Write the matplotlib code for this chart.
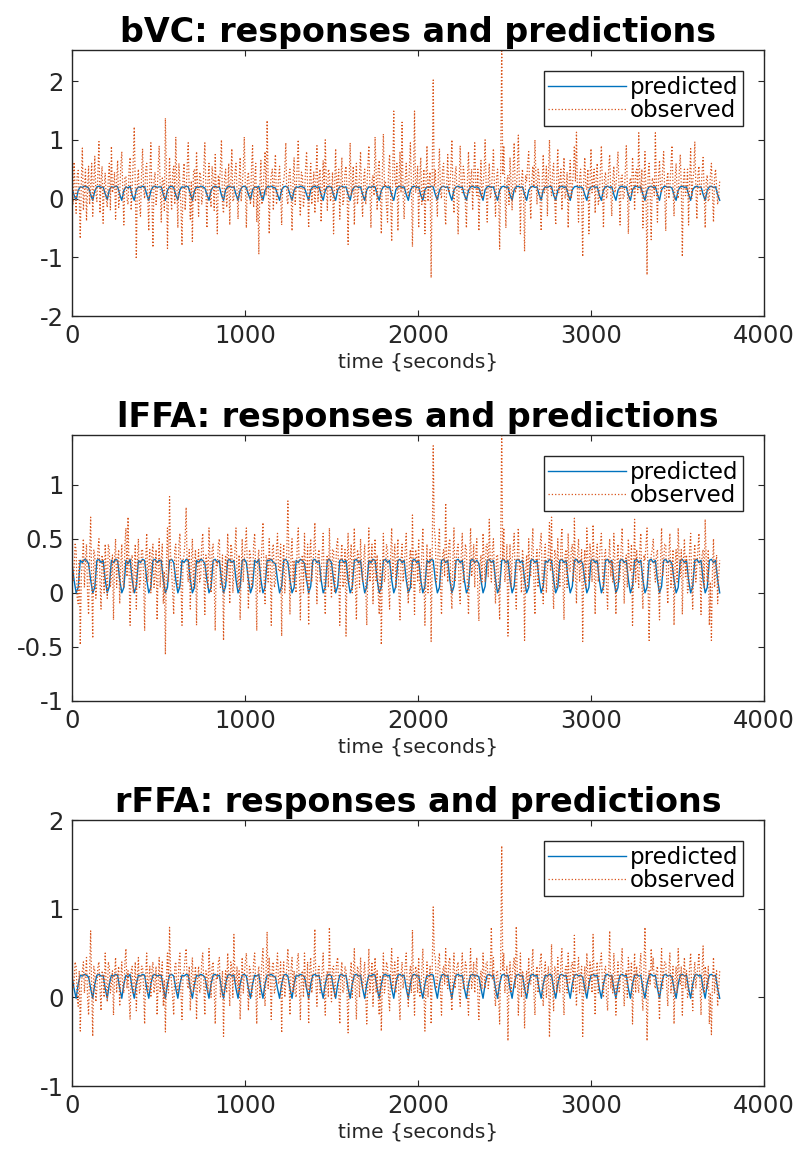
import numpy as np
import matplotlib
matplotlib.use("Agg")
import matplotlib.pyplot as plt

# sampling intervals (seconds): observed traces and model prediction
DT_OBS = 6
DT_PRED = 12

# bVC
bvc_obs = [
    0.35, -0.1, 0.62, 0.2, -0.25, 0.4, 0.48, 0.05, -0.68, 0.3, 0.86, -0.2, 0.12, 0.5, -0.38, 0.15, 0.55, -0.1, 0.21, 0.6, -0.3, 0.25, 0.72, 0.1, -0.05, 0.45, 0.97, -0.25, 0.3, 0.55, -0.42, 0.2, 0.44, 0.0, -0.15, 0.35, 0.6, -0.2, 0.89, 0.1,
    0.2, 0.45, -0.35, 0.3, 0.65, -0.15, 0.05, 0.55, 0.8, 0.1, -0.45, 0.35, 0.38, 0.0, -0.1, 0.5, 0.7, -0.2, 0.15, 0.65, 1.22, 0.2, -1.03, 0.3, 0.5, -0.1, -0.3, 0.4, 0.85, 0.15, 0.0, 0.5, 0.6, 0.05, -0.55, 0.4, 0.95, 0.1, -0.83, 0.3,
    0.45, -0.1, 0.1, 0.5, 0.9, 0.2, -0.4, 0.35, 0.3, -0.2, 1.37, 0.4, -0.85, 0.1, 0.7, 0.2, -0.2, 0.45, 0.55, -0.1, 1.05, 0.3, -0.5, 0.6, 0.25, -0.15, -0.8, 0.35, 0.6, -0.2, 0.15, 0.55, 0.95, 0.1, -0.35, 0.3, -0.73, 0.45, 0.5, -0.05,
    0.8, 0.2, -0.3, 0.45, 0.4, -0.1, 0.05, 0.5, 0.95, 0.15, -0.5, 0.3, 0.6, 0.05, -0.15, 0.55, 0.35, -0.2, 0.75, 0.1, -0.6, 0.4, 0.2, 0.55, 1.0, -0.1, -0.25, 0.35, 0.5, -0.15, 0.1, 0.6, -0.45, 0.25, 0.85, -0.05, 0.0, 0.45, 0.6, 0.1,
    -0.35, 0.3, 0.7, -0.05, 0.2, 0.5, 1.05, 0.2, -0.5, 0.35, 0.45, 0.1, -0.1, 0.55, 0.9, -0.15, 0.3, 0.6, -0.4, 0.2, -0.95, 0.25, 0.65, -0.1, 0.1, 0.45, 0.8, 0.05, 1.33, 0.3, -0.6, 0.2, 0.4, 0.5, -0.2, 0.4, 0.75, -0.1, 0.05, 0.35,
    0.55, 0.1, -0.45, 0.25, 0.3, 0.5, 0.95, 0.0, -0.1, 0.4, 0.5, 0.15, -0.55, 0.3, 0.7, -0.1, 0.15, 0.55, 1.0, 0.05, -0.3, 0.45, 0.4, -0.15, 0.05, 0.5, 0.8, 0.2, -0.5, 0.3, 0.6, -0.1, 0.2, 0.45, -0.25, 0.35, 0.9, -0.05, 0.35, 0.5,
    -0.4, 0.2, 0.65, 0.1, 1.0, 0.3, -0.2, 0.5, 0.45, -0.05, 0.1, 0.45, -0.6, 0.2, 0.85, 0.1, 0.3, 0.5, -0.35, 0.25, 0.7, -0.1, 0.0, 0.45, 0.55, 0.15, -0.78, 0.3, 0.95, 0.05, 0.2, 0.55, -0.45, 0.25, 0.6, -0.1, 0.1, 0.4, 0.8, 0.0,
    -0.3, 0.35, 0.5, -0.1, 0.15, 0.55, 0.9, 0.2, -0.5, 0.3, 0.4, 0.05, 1.05, 0.4, -0.2, 0.5, 0.65, 0.1, -0.6, 0.45, 1.1, 0.2, 0.3, -0.15, -0.4, 0.5, 0.75, 0.0, -0.73, 0.4, 1.49, 0.3, 0.2, 0.6, -0.55, 0.25, 0.8, 0.1, 1.3, 0.05,
    -0.35, 0.3, 0.6, 0.15, 0.05, 0.5, 0.95, 0.2, -0.82, 0.4, 1.49, 0.1, 0.25, 0.55, -0.5, 0.3, 0.7, -0.1, 0.1, 0.5, -0.6, 0.25, 0.9, -0.05, 0.3, 0.45, -1.35, 0.3, 2.02, 0.2, 0.5, 0.0, -0.3, 0.45, 0.85, 0.1, 0.0, 0.5, 0.6, -0.1,
    -0.45, 0.25, 0.75, 0.1, 0.2, 0.5, 1.0, 0.15, -0.25, 0.4, 0.55, 0.05, -0.6, 0.3, 0.9, 0.2, 0.1, 0.55, 0.4, -0.1, -0.5, 0.35, 0.8, 0.1, 0.3, 0.5, -0.2, 0.4, 0.95, 0.2, 0.05, 0.5, -0.55, 0.15, 0.65, 0.0, 0.2, 0.45, 1.0, 0.2,
    -0.4, 0.3, 0.6, 0.0, 0.1, 0.45, 0.85, 0.2, -0.3, 0.35, 0.5, 0.1, -0.86, 0.5, 2.6, 0.4, 0.9, 0.2, -0.5, 0.3, 0.4, -0.1, 0.7, 0.25, -0.2, 0.5, 0.95, 0.1, 0.15, 0.45, 1.08, 0.2, -0.6, 0.3, 0.5, 0.05, -0.9, 0.4, 0.3, 0.6,
    0.8, 0.1, -0.35, 0.3, 0.55, 0.2, 1.0, 0.35, -0.1, 0.5, 0.4, -0.05, -0.55, 0.3, 0.75, 0.1, 0.2, 0.55, -0.3, 0.4, 1.0, 0.2, 0.05, 0.45, 0.6, 0.0, -0.45, 0.35, 0.85, 0.1, 0.3, 0.5, -0.2, 0.25, 0.7, 0.0, 0.1, 0.45, -0.5, 0.3,
    0.65, 0.0, 0.2, 0.45, 0.9, 0.3, 1.13, 0.1, -0.4, 0.35, 0.5, 0.05, -0.99, 0.3, 0.7, 0.2, 0.15, 0.5, -0.6, 0.25, 0.85, 0.1, 0.3, 0.5, -0.25, 0.35, 0.6, -0.1, 0.0, 0.45, 0.9, 0.2, -0.5, 0.35, 0.45, 0.0, 0.1, 0.5, 0.75, 0.15,
    -0.3, 0.3, 0.55, 0.1, 0.2, 0.5, 0.8, 0.15, -0.45, 0.35, 0.4, 0.0, 0.05, 0.45, 0.9, 0.2, -0.6, 0.25, 0.35, 0.05, 0.7, 0.4, -0.2, 0.45, 0.5, 0.1, 1.12, 0.3, 0.1, 0.5, -0.5, 0.2, 0.8, 0.05, -1.3, 0.4, 0.6, 0.1, -0.7, 0.35,
    0.3, 0.05, 1.12, 0.2, -0.4, 0.35, 0.65, 0.15, 0.1, 0.5, 0.8, 0.1, -0.55, 0.3, 0.45, 0.0, 0.2, 0.55, 0.9, 0.2, -0.3, 0.35, 0.6, 0.1, 0.0, 0.45, 0.75, 0.2, -0.99, 0.3, 0.5, 0.05, 0.15, 0.5, -0.45, 0.3, 0.85, 0.0, 0.3, 0.45,
    0.97, 0.2, -0.35, 0.4, 0.55, 0.05, 0.1, 0.45, 0.7, 0.15, -0.5, 0.3, 0.4, -0.05, 0.0, 0.4, 0.6, 0.1, -0.4, 0.35, 0.5, 0.2, -0.1, 0.05, 0.3,
]
bvc_pred = [
    .17, .06, -.03, .14, .2, .19, .21, .2, .18, .07, -.03, .13, .2, .21, .19, .2, .08, -.02, .15, .2,
    .19, .21, .2, .07, -.03, .14, .2, .18, .21, .06, -.03, .15, .2, .19, .21, .2, .07, -.03, .13, .2,
    .21, .19, .2, .2, .07, -.03, .14, .2, .21, .19, .06, -.02, .15, .2, .19, .21, .2, .08, -.03, .13,
    .2, .19, .21, .2, .18, .07, -.03, .14, .2, .21, .19, .2, .06, -.03, .15, .2, .21, .19, .2, .07,
    -.03, .14, .2, .21, .19, .07, -.02, .15, .2, .19, .21, .06, -.03, .14, .2, .2, .21, .19, .18, .07,
    -.03, .15, .2, .21, .19, .07, -.03, .14, .2, .19, .21, .2, .18, .07, -.03, .15, .2, .21, .19, .2,
    .07, -.03, .14, .2, .21, .19, .06, -.03, .15, .2, .21, .19, .2, .07, -.03, .14, .2, .21, .19, .2,
    .07, -.03, .15, .2, .19, .21, .2, .07, -.03, .14, .2, .21, .19, .2, .06, -.03, .15, .2, .21, .19,
    .2, .07, -.03, .14, .2, .21, .19, .2, .06, -.03, .15, .2, .19, .21, .2, .07, -.02, .14, .2, .21,
    .19, .2, .07, -.03, .15, .2, .21, .19, .2, .06, -.03, .14, .2, .21, .19, .2, .18, .07, -.03, .15,
    .2, .21, .19, .2, .07, -.03, .14, .2, .21, .19, .2, .06, -.03, .15, .2, .21, .19, .2, .07, -.03,
    .14, .2, .21, .19, .2, .07, -.03, .15, .2, .19, .21, .2, .06, -.03, .14, .2, .21, .19, .2, .07,
    -.03, .15, .2, .21, .19, .2, .18, .07, -.03, .14, .2, .21, .19, .2, .06, -.03, .15, .2, .21, .19,
    .2, .07, -.03, .14, .2, .21, .19, .2, .06, -.03, .15, .2, .21, .19, .2, .07, -.03, .14, .2, .21,
    .19, .2, .07, -.03, .15, .2, .21, .19, .2, .18, .06, -.03, .14, .2, .21, .19, .2, .07, -.03, .15,
    .2, .21, .19, .2, .07, -.03, .14, .2, .21, .19, .2, .07, -.03,
]

# lFFA
lffa_obs = [
    0.55, 0.1, 0.2, 0.45, 0.4, -0.05, -0.1, 0.3, -0.48, 0.15, 0.3, 0.5, 0.05, 0.3, 0.45, 0.0, -0.2, 0.35, 0.7, 0.1, -0.42, 0.4, 0.35, -0.05, 0.1, 0.4, 0.5, 0.1, -0.15, 0.35, 0.25, 0.0, 0.45, 0.2, -0.05, 0.45, 0.4, 0.05, 0.15, 0.35,
    -0.25, 0.3, 0.5, 0.05, 0.3, 0.4, -0.1, 0.25, 0.45, 0.1, 0.05, 0.45, 0.6, 0.15, 0.7, 0.2, -0.3, 0.3, 0.35, 0.0, 0.2, 0.45, -0.15, 0.3, 0.5, 0.05, 0.1, 0.4, 0.4, 0.15, -0.35, 0.3, 0.55, 0.1, 0.25, 0.4, 0.0, 0.35, 0.45, 0.05,
    0.15, 0.4, -0.25, 0.2, 0.5, 0.05, 0.3, 0.45, -0.1, 0.2, -0.57, 0.3, 0.6, 0.1, 0.89, 0.35, 0.2, 0.0, -0.2, 0.4, 0.45, 0.15, 0.05, 0.45, 0.55, 0.1, -0.3, 0.3, 0.35, 0.5, 0.79, 0.2, 0.1, 0.4, -0.15, 0.3, 0.5, 0.05, 0.25, 0.4,
    -0.3, 0.25, 0.4, 0.1, 0.15, 0.45, 0.55, 0.2, -0.2, 0.35, 0.3, 0.05, 0.6, 0.3, 0.0, 0.4, 0.45, 0.1, -0.35, 0.3, 0.25, 0.45, 0.5, 0.05, 0.1, 0.35, -0.44, 0.2, 0.35, 0.1, 0.55, 0.3, -0.1, 0.45, 0.4, 0.0, 0.2, 0.4, 0.6, 0.15,
    0.05, 0.35, -0.25, 0.2, 0.5, 0.1, 0.3, 0.45, 0.6, 0.2, -0.15, 0.4, 0.35, 0.05, 0.1, 0.45, 0.55, 0.2, -0.35, 0.3, 0.4, 0.0, 0.2, 0.45, 0.65, 0.15, -0.1, 0.35, 0.3, 0.1, 0.5, 0.25, -0.3, 0.4, 0.45, 0.05, 0.1, 0.4, 0.55, 0.2,
    0.2, 0.45, -0.4, 0.25, 0.45, 0.0, 0.15, 0.4, 0.85, 0.3, -0.2, 0.35, 0.5, 0.1, 0.3, 0.05, 0.0, 0.45, 0.6, 0.2, -0.25, 0.3, 0.35, 0.0, 0.55, 0.2, 0.1, 0.45, -0.3, 0.35, 0.5, 0.1, 0.25, 0.4, 0.65, 0.2, -0.1, 0.35, 0.4, 0.1,
    0.15, 0.35, 0.55, 0.1, -0.2, 0.3, 0.35, 0.05, 0.6, 0.2, -0.05, 0.4, 0.4, 0.0, 0.2, 0.45, 0.5, 0.15, -0.3, 0.3, 0.45, 0.05, 0.1, 0.4, -0.4, 0.25, 0.55, 0.1, 0.3, 0.45, 0.0, 0.3, 0.6, 0.1, -0.25, 0.4, 0.35, 0.05, 0.5, 0.25,
    0.1, 0.3, 0.45, 0.05, -0.3, 0.2, 0.6, 0.1, 0.25, 0.45, -0.1, 0.3, 0.5, 0.1, 0.35, 0.0, -0.2, 0.3, -0.48, 0.2, 0.55, 0.1, 0.15, 0.45, 0.4, 0.05, -0.15, 0.35, 0.6, 0.15, 0.3, 0.45, 0.05, 0.3, 0.5, 0.0, -0.25, 0.3, 0.45, 0.1,
    0.2, 0.4, 0.55, 0.1, -0.1, 0.3, 0.4, 0.05, 0.72, 0.2, -0.2, 0.4, 0.35, 0.1, 0.5, 0.0, 0.05, 0.35, 0.6, 0.2, -0.3, 0.15, 0.45, 0.0, 0.2, 0.4, -0.45, 0.3, 1.36, 0.6, 0.5, 0.1, 0.15, 0.45, 0.6, 0.05, -0.2, 0.35, 0.4, 0.15,
    0.83, 0.3, 0.1, 0.45, 0.5, 0.05, -0.15, 0.3, 0.6, 0.1, 0.3, 0.4, 0.45, 0.05, -0.1, 0.35, 0.55, 0.1, 0.2, 0.45, 0.4, 0.05, -0.2, 0.3, 0.6, 0.15, 0.25, 0.45, 0.05, 0.35, 0.5, 0.0, -0.26, 0.25, 0.35, 0.1, 0.55, 0.3, 0.1, 0.45,
    0.45, 0.15, 0.68, 0.3, 0.1, 0.4, 0.5, 0.15, -0.1, 0.35, 0.35, 0.05, -0.25, 0.45, 1.5, 0.3, 0.6, 0.1, 0.2, 0.45, -0.4, 0.2, 0.45, 0.05, 0.3, 0.4, 0.55, 0.1, -0.15, 0.35, 0.6, 0.2, 0.25, 0.0, 0.4, 0.3, -0.44, 0.2, 0.35, 0.05,
    0.5, 0.2, 0.15, 0.4, 0.6, 0.1, -0.2, 0.3, 0.4, 0.05, 0.3, 0.45, 0.55, 0.15, -0.1, 0.35, 0.45, 0.0, 0.2, 0.4, 0.65, 0.2, 0.7, 0.1, -0.15, 0.4, 0.35, 0.05, 0.5, 0.2, 0.05, 0.45, 0.6, 0.1, -0.25, 0.35, 0.4, 0.05, 0.55, 0.2,
    0.2, 0.4, 0.45, 0.1, 0.69, 0.2, -0.1, 0.35, 0.5, 0.1, 0.25, 0.4, -0.45, 0.2, 0.4, 0.05, 0.6, 0.3, 0.1, 0.45, 0.35, 0.1, 0.63, 0.25, -0.2, 0.35, 0.45, 0.1, 0.3, 0.45, 0.55, 0.2, 0.0, 0.35, 0.4, 0.05, -0.15, 0.3, 0.5, 0.15,
    0.3, 0.1, 0.55, 0.3, -0.2, 0.25, 0.45, 0.1, 0.15, 0.4, 0.6, 0.2, -0.1, 0.3, 0.35, 0.05, 0.5, 0.25, 0.2, 0.45, -0.3, 0.2, 0.68, 0.1, 0.4, 0.2, 0.05, 0.4, 0.55, 0.1, -0.15, 0.35, 0.3, 0.45, 0.6, 0.1, -0.44, 0.2, 0.35, 0.4,
    0.5, 0.2, 0.1, 0.35, 0.4, 0.05, -0.25, 0.3, 0.6, 0.15, 0.3, 0.45, 0.45, 0.1, -0.1, 0.35, 0.55, 0.05, 0.2, 0.4, -0.3, 0.25, 0.4, 0.1, 0.6, 0.3, 0.15, 0.4, -0.2, 0.3, 0.5, 0.15, 0.35, 0.0, 0.05, 0.4, 0.55, 0.1, -0.15, 0.3,
    0.45, 0.1, 0.25, 0.4, 0.55, 0.2, -0.2, 0.35, 0.4, 0.05, 0.68, 0.3, 0.1, 0.4, -0.3, 0.1, -0.44, 0.2, 0.5, 0.05, 0.2, 0.35, -0.1, 0.15, 0.3,
]
lffa_pred = [
    .27, .12, 0, .05, .3, .28, .31, .3, .27, .12, 0, .05, .3, .31, .28, .3, .12, 0, .06, .3,
    .28, .31, .3, .12, 0, .05, .3, .27, .31, .12, 0, .06, .3, .28, .31, .3, .12, 0, .05, .3,
    .31, .28, .3, .3, .12, 0, .05, .3, .31, .28, .12, 0, .06, .3, .28, .31, .3, .12, 0, .05,
    .3, .28, .31, .3, .27, .12, 0, .05, .3, .31, .28, .3, .12, 0, .06, .3, .31, .28, .3, .12,
    0, .05, .3, .31, .28, .12, 0, .06, .3, .28, .31, .12, 0, .05, .3, .3, .31, .28, .27, .12,
    0, .06, .3, .31, .28, .12, 0, .05, .3, .28, .31, .3, .27, .12, 0, .06, .3, .31, .28, .3,
    .12, 0, .05, .3, .31, .28, .12, 0, .06, .3, .31, .28, .3, .12, 0, .05, .3, .31, .28, .3,
    .12, 0, .06, .3, .28, .31, .3, .12, 0, .05, .3, .31, .28, .3, .12, 0, .06, .3, .31, .28,
    .3, .12, 0, .05, .3, .31, .28, .3, .12, 0, .06, .3, .28, .31, .3, .12, 0, .05, .3, .31,
    .28, .3, .12, 0, .06, .3, .31, .28, .3, .12, 0, .05, .3, .31, .28, .3, .27, .12, 0, .06,
    .3, .31, .28, .3, .12, 0, .05, .3, .31, .28, .3, .12, 0, .06, .3, .31, .28, .3, .12, 0,
    .05, .3, .31, .28, .3, .12, 0, .06, .3, .28, .31, .3, .12, 0, .05, .3, .31, .28, .3, .12,
    0, .06, .3, .31, .28, .3, .27, .12, 0, .05, .3, .31, .28, .3, .12, 0, .06, .3, .31, .28,
    .3, .12, 0, .05, .3, .31, .28, .3, .12, 0, .06, .3, .31, .28, .3, .12, 0, .05, .3, .31,
    .28, .3, .12, 0, .06, .3, .31, .28, .3, .27, .12, 0, .05, .3, .31, .28, .3, .12, 0, .06,
    .3, .31, .28, .3, .12, 0, .05, .3, .31, .28, .3, .12, 0,
]

# rFFA
rffa_obs = [
    0.5, 0.1, 0.15, 0.4, 0.35, 0.0, -0.1, 0.3, -0.38, 0.1, 0.3, 0.4, 0.05, 0.25, 0.45, 0.0, -0.2, 0.3, 0.75, 0.1, -0.44, 0.35, 0.3, -0.05, 0.1, 0.35, 0.4, 0.1, -0.15, 0.3, 0.25, 0.0, 0.5, 0.15, -0.05, 0.4, 0.35, 0.05, 0.15, 0.3,
    -0.2, 0.25, 0.45, 0.05, 0.25, 0.35, -0.1, 0.2, 0.4, 0.1, 0.05, 0.4, 0.55, 0.1, 0.3, 0.0, -0.25, 0.3, 0.35, 0.05, 0.15, 0.4, -0.15, 0.25, 0.45, 0.05, 0.1, 0.35, 0.35, 0.1, -0.3, 0.25, 0.5, 0.05, 0.2, 0.35, 0.0, 0.3, 0.4, 0.05,
    0.15, 0.35, -0.2, 0.15, 0.45, 0.05, 0.25, 0.4, -0.1, 0.2, -0.39, 0.25, 0.5, 0.05, 0.79, 0.3, 0.15, 0.0, -0.2, 0.35, 0.4, 0.1, 0.05, 0.4, 0.5, 0.05, -0.25, 0.25, 0.3, 0.45, 0.55, 0.15, 0.1, 0.35, -0.15, 0.25, 0.45, 0.05, 0.2, 0.35,
    -0.25, 0.2, 0.35, 0.05, 0.1, 0.4, 0.5, 0.15, -0.2, 0.3, 0.25, 0.05, 0.55, 0.25, 0.0, 0.35, 0.4, 0.1, -0.3, 0.25, 0.2, 0.4, 0.45, 0.0, 0.1, 0.3, -0.44, 0.15, 0.3, 0.05, 0.5, 0.25, -0.1, 0.4, 0.35, 0.0, 0.71, 0.2, 0.15, 0.35,
    0.05, 0.3, -0.25, 0.15, 0.45, 0.05, 0.25, 0.4, 0.5, 0.15, -0.15, 0.35, 0.3, 0.0, 0.1, 0.4, 0.5, 0.15, -0.3, 0.25, 0.35, 0.0, 0.2, 0.4, 0.55, 0.1, -0.1, 0.3, 0.74, 0.1, 0.45, 0.2, -0.25, 0.35, 0.4, 0.05, 0.1, 0.35, 0.5, 0.15,
    0.2, 0.4, -0.4, 0.2, 0.4, 0.0, 0.15, 0.35, 0.55, 0.25, -0.2, 0.3, 0.45, 0.05, 0.3, 0.05, 0.0, 0.4, 0.5, 0.15, -0.25, 0.25, 0.3, 0.0, 0.5, 0.15, 0.1, 0.4, -0.3, 0.3, 0.45, 0.05, 0.2, 0.35, 0.77, 0.15, -0.1, 0.3, 0.35, 0.05,
    0.15, 0.3, 0.5, 0.05, -0.2, 0.25, 0.3, 0.0, 0.79, 0.15, -0.05, 0.35, 0.35, 0.0, 0.2, 0.4, 0.45, 0.1, -0.3, 0.25, 0.4, 0.05, 0.1, 0.35, 0.3, 0.05, -0.4, 0.2, 0.25, 0.4, 0.0, 0.25, 0.55, 0.05, -0.25, 0.35, 0.3, 0.0, 0.45, 0.2,
    0.1, 0.25, 0.4, 0.0, -0.3, 0.15, 0.55, 0.05, 0.2, 0.4, -0.1, 0.25, 0.45, 0.05, 0.3, 0.0, -0.2, 0.25, -0.38, 0.15, 0.5, 0.05, 0.15, 0.4, 0.35, 0.0, -0.15, 0.3, 0.55, 0.1, 0.25, 0.4, 0.05, 0.25, 0.45, 0.0, -0.25, 0.25, 0.4, 0.1,
    0.2, 0.35, 0.5, 0.1, -0.1, 0.25, 0.35, 0.05, 0.76, 0.15, -0.2, 0.35, 0.3, 0.05, 0.45, 0.0, 0.05, 0.3, 0.55, 0.15, -0.38, 0.1, 0.4, 0.0, 0.2, 0.35, -0.3, 0.25, 1.02, 0.5, 0.45, 0.1, 0.15, 0.4, 0.5, 0.05, -0.2, 0.3, 0.35, 0.15,
    0.55, 0.2, 0.1, 0.4, 0.45, 0.05, -0.15, 0.25, 0.5, 0.1, 0.25, 0.35, 0.4, 0.05, -0.1, 0.3, 0.5, 0.1, 0.2, 0.4, 0.35, 0.0, -0.2, 0.25, 0.55, 0.1, 0.2, 0.4, 0.05, 0.3, 0.45, 0.0, -0.25, 0.2, 0.3, 0.1, 0.5, 0.25, 0.1, 0.4,
    0.4, 0.1, 0.2, 0.35, 0.79, 0.2, 0.45, 0.05, -0.1, 0.3, 0.3, 0.0, -0.3, 0.4, 1.71, 0.3, 0.5, 0.05, 0.2, 0.35, -0.49, 0.15, 0.4, 0.05, 0.25, 0.35, 0.45, 0.1, 0.8, 0.3, -0.2, 0.15, 0.5, 0.0, 0.3, 0.25, -0.35, 0.15, 0.3, 0.05,
    0.45, 0.15, 0.15, 0.35, 0.55, 0.05, -0.2, 0.25, 0.35, 0.05, 0.25, 0.4, 0.5, 0.1, -0.1, 0.3, 0.4, 0.0, 0.2, 0.35, -0.45, 0.15, 0.6, 0.1, -0.15, 0.35, 0.3, 0.05, 0.45, 0.15, 0.05, 0.4, 0.55, 0.05, -0.2, 0.3, 0.35, 0.05, 0.5, 0.15,
    0.2, 0.35, 0.4, 0.05, 0.7, 0.15, -0.1, 0.3, 0.45, 0.05, 0.25, 0.35, -0.44, 0.15, 0.35, 0.05, 0.5, 0.25, 0.1, 0.4, 0.3, 0.05, 0.71, 0.2, -0.2, 0.3, 0.4, 0.05, 0.3, 0.4, 0.5, 0.15, 0.0, 0.3, 0.35, 0.0, -0.15, 0.25, 0.75, 0.1,
    0.25, 0.05, 0.5, 0.25, -0.2, 0.2, 0.4, 0.05, 0.15, 0.35, 0.55, 0.15, -0.1, 0.25, 0.3, 0.0, 0.45, 0.2, 0.2, 0.4, -0.3, 0.15, 0.5, 0.05, 0.35, 0.15, 0.05, 0.35, 0.5, 0.05, -0.15, 0.3, 0.79, 0.2, -0.49, 0.05, 0.3, 0.15, 0.55, 0.3,
    0.45, 0.15, 0.1, 0.3, 0.35, 0.05, -0.25, 0.25, 0.55, 0.1, 0.3, 0.4, 0.4, 0.1, -0.1, 0.3, 0.5, 0.05, 0.2, 0.35, -0.3, 0.2, 0.35, 0.05, 0.55, 0.25, 0.15, 0.35, -0.2, 0.25, 0.45, 0.1, 0.3, 0.0, 0.05, 0.35, 0.5, 0.1, -0.15, 0.25,
    0.4, 0.1, 0.25, 0.35, 0.5, 0.15, -0.2, 0.3, 0.58, 0.05, 0.35, 0.25, 0.1, 0.35, -0.3, 0.05, -0.42, 0.15, 0.45, 0.05, 0.2, 0.3, -0.1, 0.1, 0.3,
]
rffa_pred = [
    .23, .1, -.01, .15, .25, .24, .26, .25, .23, .1, -.01, .15, .25, .26, .24, .25, .1, -.01, .15, .25,
    .24, .26, .25, .1, -.01, .15, .25, .23, .26, .1, -.01, .15, .25, .24, .26, .25, .1, -.01, .15, .25,
    .26, .24, .25, .25, .1, -.01, .15, .25, .26, .24, .1, -.01, .15, .25, .24, .26, .25, .1, -.01, .15,
    .25, .24, .26, .25, .23, .1, -.01, .15, .25, .26, .24, .25, .1, -.01, .15, .25, .26, .24, .25, .1,
    -.01, .15, .25, .26, .24, .1, -.01, .15, .25, .24, .26, .1, -.01, .15, .25, .25, .26, .24, .23, .1,
    -.01, .15, .25, .26, .24, .1, -.01, .15, .25, .24, .26, .25, .23, .1, -.01, .15, .25, .26, .24, .25,
    .1, -.01, .15, .25, .26, .24, .1, -.01, .15, .25, .26, .24, .25, .1, -.01, .15, .25, .26, .24, .25,
    .1, -.01, .15, .25, .24, .26, .25, .1, -.01, .15, .25, .26, .24, .25, .1, -.01, .15, .25, .26, .24,
    .25, .1, -.01, .15, .25, .26, .24, .25, .1, -.01, .15, .25, .24, .26, .25, .1, -.01, .15, .25, .26,
    .24, .25, .1, -.01, .15, .25, .26, .24, .25, .1, -.01, .15, .25, .26, .24, .25, .23, .1, -.01, .15,
    .25, .26, .24, .25, .1, -.01, .15, .25, .26, .24, .25, .1, -.01, .15, .25, .26, .24, .25, .1, -.01,
    .15, .25, .26, .24, .25, .1, -.01, .15, .25, .24, .26, .25, .1, -.01, .15, .25, .26, .24, .25, .1,
    -.01, .15, .25, .26, .24, .25, .23, .1, -.01, .15, .25, .26, .24, .25, .1, -.01, .15, .25, .26, .24,
    .25, .1, -.01, .15, .25, .26, .24, .25, .1, -.01, .15, .25, .26, .24, .25, .1, -.01, .15, .25, .26,
    .24, .25, .1, -.01, .15, .25, .26, .24, .25, .23, .1, -.01, .15, .25, .26, .24, .25, .1, -.01, .15,
    .25, .26, .24, .25, .1, -.01, .15, .25, .26, .24, .25, .1, -.01,
]

regions = ["bVC", "lFFA", "rFFA"]
observed = [bvc_obs, lffa_obs, rffa_obs]
predicted = [bvc_pred, lffa_pred, rffa_pred]
ylims = [(-2, 2.53), (-1, 1.46), (-1, 2)]
yticks = [[-2, -1, 0, 1, 2], [-1, -0.5, 0, 0.5, 1], [-1, 0, 1, 2]]
yticklabels = [["-2", "-1", "0", "1", "2"], ["-1", "-0.5", "0", "0.5", "1"], ["-1", "0", "1", "2"]]
xticks = [0, 1000, 2000, 3000, 4000]

plt.rcParams["font.family"] = "DejaVu Sans"
plt.rcParams["axes.unicode_minus"] = False

fig = plt.figure(figsize=(7.97, 11.55), dpi=100)
bottoms = [0.7264, 0.3931, 0.0597]

for i, name in enumerate(regions):
    t_obs = np.arange(len(observed[i])) * DT_OBS
    t_pred = np.arange(len(predicted[i])) * DT_PRED
    ax = fig.add_axes([0.0903, bottoms[i], 0.8683, 0.2303])
    ax.plot(t_pred, predicted[i], color="#0072BD", lw=1.0, label="predicted")
    ax.plot(t_obs, observed[i], color="#D95319", lw=0.9, ls=":", label="observed")
    ax.set_xlim(0, 4000)
    ax.set_ylim(*ylims[i])
    ax.set_xticks(xticks)
    ax.set_xticklabels([str(x) for x in xticks])
    ax.set_yticks(yticks[i])
    ax.set_yticklabels(yticklabels[i])
    ax.tick_params(direction="in", length=4, width=0.8, labelsize=17.5,
                   colors="#262626", top=True, right=True, pad=6)
    for s in ax.spines.values():
        s.set_color("#262626")
        s.set_linewidth(1.0)
    ax.set_xlabel("time {seconds}", fontsize=14.5, color="#262626", labelpad=3)
    ax.set_title(f"{name}: responses and predictions", fontsize=24, fontweight="bold")
    leg = ax.legend(loc="upper right", bbox_to_anchor=(0.970, 0.921), borderaxespad=0,
                    fontsize=16.5, fancybox=False, framealpha=1, edgecolor="#262626",
                    handlelength=3.4, handletextpad=0.17, borderpad=0.2, labelspacing=0.0)
    leg.get_frame().set_linewidth(1.0)

fig.savefig("out.png", dpi=100)
